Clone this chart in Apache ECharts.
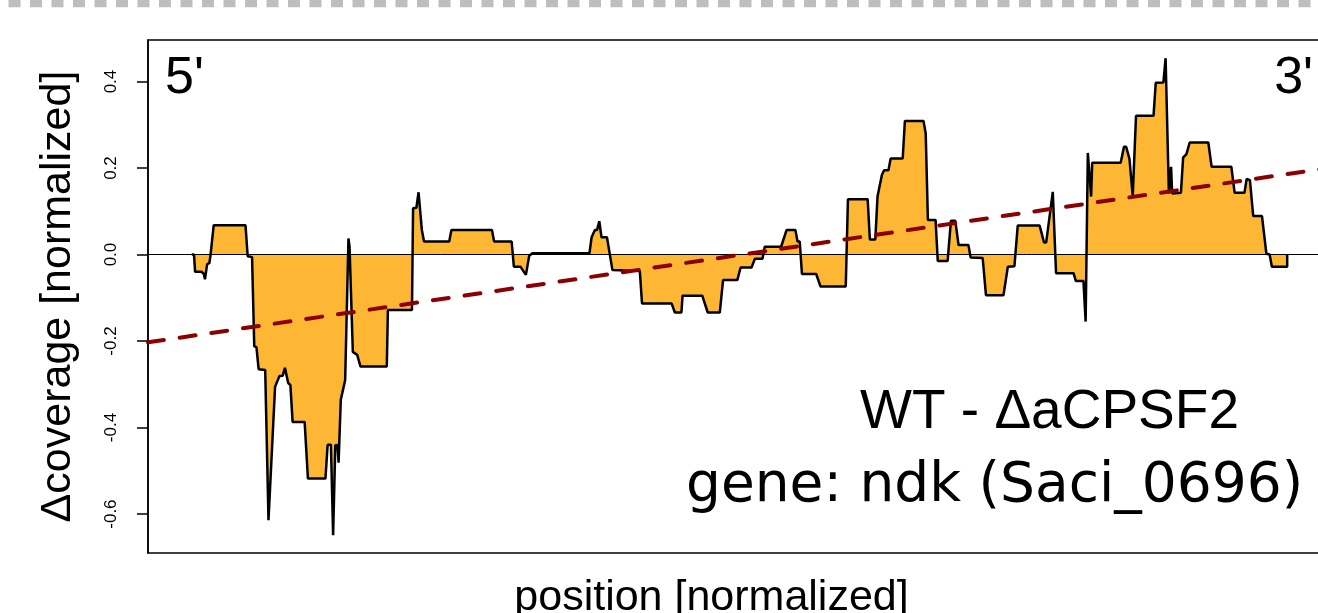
<!DOCTYPE html>
<html>
<head>
<meta charset="utf-8">
<script src="https://cdn.jsdelivr.net/npm/echarts@6/dist/echarts.min.js"></script>
<style>
html,body{margin:0;padding:0;background:#fff;}
#chart{width:1318px;height:613px;}
</style>
</head>
<body>
<div id="chart"></div>
<script>
// normalized position along the gene (0 = 5' end, 1 = 3' end)
const positions = [
  0.000, 0.002, 0.003, 0.009, 0.011, 0.012, 0.014, 0.016, 0.017, 0.020,
  0.049, 0.051, 0.055, 0.057, 0.059, 0.061, 0.067, 0.070, 0.076, 0.080,
  0.083, 0.085, 0.088, 0.090, 0.092, 0.103, 0.106, 0.122, 0.124, 0.127,
  0.129, 0.131, 0.133, 0.134, 0.136, 0.140, 0.143, 0.144, 0.147, 0.151,
  0.154, 0.178, 0.179, 0.201, 0.202, 0.205, 0.207, 0.210, 0.212, 0.235,
  0.237, 0.274, 0.276, 0.292, 0.294, 0.300, 0.305, 0.308, 0.311, 0.363,
  0.365, 0.368, 0.370, 0.372, 0.374, 0.379, 0.384, 0.409, 0.411, 0.438,
  0.441, 0.447, 0.448, 0.466, 0.471, 0.482, 0.485, 0.498, 0.501, 0.511,
  0.514, 0.521, 0.523, 0.538, 0.543, 0.551, 0.553, 0.555, 0.557, 0.570,
  0.574, 0.597, 0.599, 0.617, 0.619, 0.624, 0.626, 0.630, 0.632, 0.636,
  0.638, 0.649, 0.651, 0.668, 0.670, 0.672, 0.679, 0.681, 0.690, 0.693,
  0.697, 0.700, 0.709, 0.711, 0.722, 0.725, 0.741, 0.745, 0.751, 0.754,
  0.774, 0.778, 0.780, 0.786, 0.789, 0.805, 0.807, 0.814, 0.816, 0.818,
  0.821, 0.822, 0.848, 0.851, 0.853, 0.856, 0.859, 0.862, 0.878, 0.880,
  0.887, 0.889, 0.892, 0.894, 0.895, 0.903, 0.905, 0.908, 0.911, 0.928,
  0.931, 0.949, 0.952, 0.961, 0.963, 0.966, 0.969, 0.977, 0.981, 0.984,
  0.986, 1.000, 1.000
];
// WT - ΔaCPSF2 difference in normalized coverage
const deltaCoverage = [
  0.000, 0.000, -0.040, -0.040, -0.045, -0.057, -0.022, -0.020, -0.003, 0.068,
  0.068, -0.004, -0.006, -0.212, -0.214, -0.265, -0.267, -0.614, -0.306, -0.281,
  -0.280, -0.262, -0.297, -0.302, -0.387, -0.387, -0.518, -0.518, -0.440, -0.440,
  -0.649, -0.441, -0.440, -0.481, -0.336, -0.290, 0.037, 0.018, -0.225, -0.232,
  -0.259, -0.259, -0.128, -0.128, 0.107, 0.108, 0.144, 0.057, 0.030, 0.030,
  0.057, 0.057, 0.030, 0.030, -0.028, -0.028, -0.047, -0.003, 0.003, 0.003,
  0.040, 0.057, 0.057, 0.077, 0.040, 0.040, -0.036, -0.038, -0.113, -0.113,
  -0.134, -0.134, -0.095, -0.095, -0.134, -0.134, -0.059, -0.059, -0.030, -0.030,
  -0.010, -0.010, 0.018, 0.018, 0.057, 0.057, 0.030, 0.030, -0.045, -0.045,
  -0.074, -0.074, 0.128, 0.128, 0.035, 0.035, 0.134, 0.184, 0.195, 0.195,
  0.222, 0.222, 0.309, 0.309, 0.280, 0.080, 0.080, -0.015, -0.015, 0.078,
  0.078, 0.022, 0.022, -0.007, -0.008, -0.094, -0.094, -0.028, -0.027, 0.067,
  0.067, 0.028, 0.028, 0.145, -0.043, -0.043, -0.061, -0.061, -0.155, 0.235,
  0.134, 0.212, 0.212, 0.249, 0.249, 0.221, 0.135, 0.321, 0.321, 0.397,
  0.398, 0.454, 0.141, 0.203, 0.141, 0.143, 0.224, 0.232, 0.259, 0.259,
  0.203, 0.203, 0.143, 0.143, 0.175, 0.172, 0.089, 0.089, 0.002, 0.000,
  -0.028, -0.028, 0.000
];
// linear trend (dashed red line) at the plot's left and right edges
const trendPositions = [-0.04, 1.04];
const trendValues = [-0.203, 0.201];
// y-axis ticks
const yTicks = [-0.6, -0.4, -0.2, 0.0, 0.2, 0.4];

const coverageData = positions.map((p, i) => [p, deltaCoverage[i]]);
const trendData = trendPositions.map((p, i) => [p, trendValues[i]]);

const chart = echarts.init(document.getElementById('chart'), null, {renderer: 'canvas'});
chart.setOption({
  animation: false,
  backgroundColor: '#ffffff',
  grid: {
    left: 148, top: 40, width: 1183, height: 513,
    outerBoundsMode: 'none', containLabel: false,
    show: true, borderColor: '#000', borderWidth: 1.5, backgroundColor: 'transparent'
  },
  xAxis: {
    type: 'value', min: -0.04, max: 1.04,
    axisLine: {show: false, onZero: false}, axisTick: {show: false}, axisLabel: {show: false},
    splitLine: {show: false},
    name: 'position [normalized]', nameLocation: 'middle', nameGap: 24,
    nameTextStyle: {fontFamily: 'Liberation Sans', fontSize: 43, color: '#000', padding: [0, 56, 0, 0]}
  },
  yAxis: {
    type: 'value', min: -0.69, max: 0.496,
    axisLine: {show: true, onZero: false, lineStyle: {color: '#000', width: 1.5}},
    splitLine: {show: false},
    axisTick: {show: true, inside: false, length: 11, customValues: yTicks,
               lineStyle: {color: '#000', width: 1.5}},
    axisLabel: {show: true, customValues: yTicks, rotate: 90, margin: 28,
                fontFamily: 'Liberation Sans', fontSize: 17, color: '#000',
                formatter: v => v.toFixed(1)},
    name: 'Δcoverage [normalized]', nameLocation: 'middle', nameGap: 68,
    nameTextStyle: {fontFamily: 'Liberation Sans', fontSize: 43, color: '#000'}
  },
  series: [
    {
      name: 'Δcoverage', type: 'line', data: coverageData,
      symbol: 'none', smooth: false, clip: true,
      lineStyle: {color: '#000', width: 2.5},
      areaStyle: {color: '#FDB735', opacity: 1, origin: 0},
      markLine: {
        silent: true, symbol: ['none', 'none'], label: {show: false},
        lineStyle: {color: '#000', width: 1, type: 'solid'},
        data: [{yAxis: 0}]
      },
      z: 2
    },
    {
      name: 'trend', type: 'line', data: trendData,
      symbol: 'none',
      lineStyle: {color: '#8B0000', width: 4, type: [16, 16], cap: 'round'},
      z: 5
    }
  ],
  graphic: [
    {type: 'line', shape: {x1: 0, y1: 3.5, x2: 1318, y2: 3.5},
     style: {stroke: '#BEBEBE', lineWidth: 7.5, lineDash: [12, 9.5], lineDashOffset: 13}, z: 10},
    {type: 'text', left: 165, top: 53,
     style: {text: "5'", fontFamily: 'Liberation Sans', fontSize: 52, fill: '#000'}},
    {type: 'text', right: 5, top: 53,
     style: {text: "3'", fontFamily: 'Liberation Sans', fontSize: 52, fill: '#000'}},
    {type: 'text', left: 860, top: 385,
     style: {text: 'WT - ΔaCPSF2', fontFamily: 'Liberation Sans', fontSize: 55, fill: '#000'}},
    {type: 'text', left: 686, top: 459,
     style: {text: 'gene: ndk (Saci_0696)', fontFamily: 'DejaVu Sans', fontSize: 55, fill: '#000'}}
  ]
});
</script>
</body>
</html>
